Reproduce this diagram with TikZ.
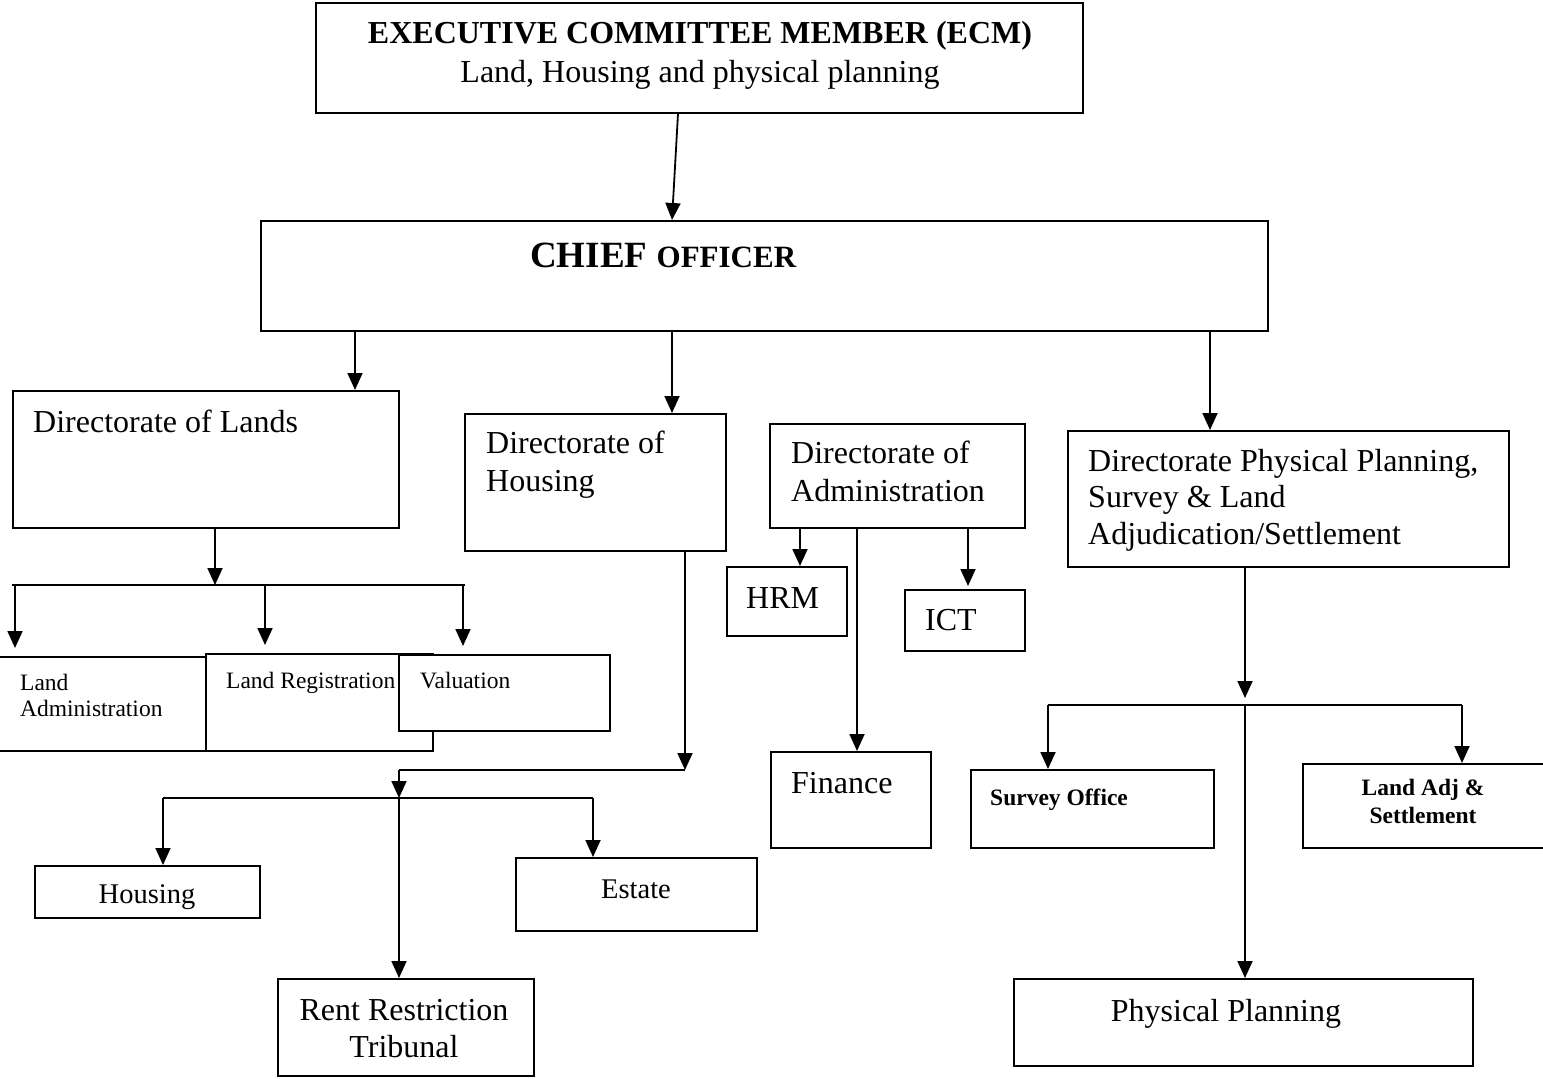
\documentclass[tikz,border=0pt]{standalone}
\usepackage{fontspec}
\setmainfont{Liberation Serif}
\usetikzlibrary{arrows.meta, positioning}
\tikzset{orgbox/.style={rectangle, draw=black, fill=white, line width=1.8pt, anchor=north west, inner sep=0pt},
bigtext/.style={font=\fontsize{32}{38}\selectfont, align=left, anchor=base west, inner sep=0pt},
smalltext/.style={font=\fontsize{23.5}{26}\selectfont, align=left, anchor=base west, inner sep=0pt},
smallboldtext/.style={font=\fontsize{23.5}{28}\selectfont\bfseries, align=center, anchor=base, inner sep=0pt}}
\tikzset{downarrow/.style={-{Triangle[length=17pt, width=15pt]}, line width=1.8pt},
joinline/.style={line width=1.8pt}}

\begin{document}
\begin{tikzpicture}[x=1pt, y=-1pt]
        \useasboundingbox[fill=white] (0,0) rectangle (1543,1079);
        % Top boxes (multi-line texts sit on their last baseline)
        \node[orgbox, minimum width=767pt, minimum height=110pt] (ecm) at (315,2) {};
        \node[anchor=base, align=center, inner sep=0pt, font=\fontsize{32}{39}\selectfont] (ecmtext) at (700,82) {\textbf{EXECUTIVE COMMITTEE MEMBER (ECM)}\\Land, Housing and physical planning};
        \node[orgbox, minimum width=1007pt, minimum height=110pt] (chief) at (260,220) {};
        \node[anchor=base west, inner sep=0pt] (chieftext) at (530,267) {\bfseries\fontsize{37}{40}\selectfont CHIEF \fontsize{31}{37}\selectfont OFFICER};
        % Directorates
        \node[orgbox, minimum width=386pt, minimum height=137pt] (lands) at (12,390) {};
        \node[bigtext] (landstext) at (33,432) {Directorate of Lands};
        \node[orgbox, minimum width=261pt, minimum height=137pt] (housingdir) at (464,413) {};
        \node[bigtext] (housingdirtext) at (486,491) {Directorate of\\Housing};
        \node[orgbox, minimum width=255pt, minimum height=104pt] (admindir) at (769,423) {};
        \node[bigtext] (admindirtext) at (791,501) {Directorate of\\Administration};
        \node[orgbox, minimum width=441pt, minimum height=136pt] (planningdir) at (1067,430) {};
        \node[bigtext, font=\fontsize{32}{36.5}\selectfont] (planningdirtext) at (1088,544) {Directorate Physical Planning,\\Survey \& Land\\Adjudication/Settlement};
        % Lands units
        \node[orgbox, minimum width=209pt, minimum height=94pt] (landadmin) at (-4,656) {};
        \node[smalltext] (landadmintext) at (20,716) {Land\\Administration};
        \node[orgbox, minimum width=227pt, minimum height=97pt] (landreg) at (205,653) {};
        \node[smalltext] (landregtext) at (226,688) {Land Registration};
        \node[orgbox, minimum width=211pt, minimum height=76pt] (valuation) at (398,654) {};
        \node[smalltext] (valuationtext) at (420,688) {Valuation};
        % Administration units
        \node[orgbox, minimum width=120pt, minimum height=69pt] (hrm) at (726,566) {};
        \node[bigtext] (hrmtext) at (746,608) {HRM};
        \node[orgbox, minimum width=120pt, minimum height=61pt] (ict) at (904,589) {};
        \node[bigtext] (icttext) at (925,630) {ICT};
        \node[orgbox, minimum width=160pt, minimum height=96pt] (finance) at (770,751) {};
        \node[bigtext] (financetext) at (791,793) {Finance};
        % Housing units
        \node[orgbox, minimum width=225pt, minimum height=52pt] (housing) at (34,865) {};
        \node[bigtext, font=\fontsize{28.5}{34}\selectfont, anchor=base] (housingtext) at (147,903) {Housing};
        \node[orgbox, minimum width=241pt, minimum height=73pt] (estate) at (515,857) {};
        \node[bigtext, font=\fontsize{28.5}{34}\selectfont, anchor=base] (estatetext) at (636,898) {Estate};
        \node[orgbox, minimum width=256pt, minimum height=97pt] (rent) at (277,978) {};
        \node[bigtext, align=center, anchor=base, font=\fontsize{32}{37}\selectfont] (renttext) at (404,1057) {Rent Restriction\\Tribunal};
        % Planning units
        \node[orgbox, minimum width=243pt, minimum height=78pt] (survey) at (970,769) {};
        \node[smallboldtext, anchor=base west] (surveytext) at (990,805) {Survey Office};
        \node[orgbox, minimum width=250pt, minimum height=84pt] (landadj) at (1302,763) {};
        \node[smallboldtext] (landadjtext) at (1423,823) {Land Adj \&\\Settlement};
        \node[orgbox, minimum width=459pt, minimum height=87pt] (physical) at (1013,978) {};
        \node[bigtext, anchor=base] (physicaltext) at (1226,1021) {Physical Planning};
        % Arrows from the top
        \draw[downarrow] ([xshift=363pt]ecm.south west) -- ([xshift=412pt]chief.north west);
        \draw[downarrow] ([xshift=95pt]chief.south west) -- ([xshift=343pt]lands.north west);
        \draw[downarrow] ([xshift=412pt]chief.south west) -- ([xshift=208pt]housingdir.north west);
        \draw[downarrow] ([xshift=950pt]chief.south west) -- ([xshift=143pt]planningdir.north west);
        % Lands tree
        \coordinate (landsjoin) at (215,585);
        \coordinate (landsleft) at (12,585);
        \coordinate (landsright) at (465,585);
        \draw[downarrow] ([xshift=203pt]lands.south west) -- (landsjoin);
        \draw[joinline] (landsleft) -- (landsright);
        \draw[downarrow, shorten >=8pt] ([xshift=3pt]landsleft) -- ([xshift=19pt]landadmin.north west);
        \draw[downarrow, shorten >=8pt] ([xshift=253pt]landsleft) -- ([xshift=60pt]landreg.north west);
        \draw[downarrow, shorten >=8pt] ([xshift=-2pt]landsright) -- ([xshift=65pt]valuation.north west);
        % Housing tree
        \coordinate (housingturn) at (685,770);
        \coordinate (housingleft) at (399,770);
        \coordinate (housingjoin) at (399,798);
        \coordinate (housingbarleft) at (163,798);
        \coordinate (housingbarright) at (593,798);
        \draw[downarrow] ([xshift=221pt]housingdir.south west) -- (housingturn);
        \draw[joinline] (housingturn) -- (housingleft);
        \draw[downarrow] (housingleft) -- (housingjoin);
        \draw[joinline] (housingbarleft) -- (housingbarright);
        \draw[downarrow] (housingbarleft) -- ([xshift=129pt]housing.north west);
        \draw[downarrow] (housingjoin) -- ([xshift=122pt]rent.north west);
        \draw[downarrow] (housingbarright) -- ([xshift=78pt]estate.north west);
        % Administration tree
        \draw[downarrow] ([xshift=31pt]admindir.south west) -- ([xshift=74pt]hrm.north west);
        \draw[downarrow, shorten >=3pt] ([xshift=199pt]admindir.south west) -- ([xshift=64pt]ict.north west);
        \draw[downarrow] ([xshift=88pt]admindir.south west) -- ([xshift=87pt]finance.north west);
        % Planning tree
        \coordinate (planningjoin) at (1245,705);
        \coordinate (planningbarleft) at (1048,705);
        \coordinate (planningbarright) at (1462,705);
        \draw[downarrow, shorten >=7pt] ([xshift=178pt]planningdir.south west) -- (planningjoin);
        \draw[joinline] (planningbarleft) -- (planningbarright);
        \draw[downarrow] (planningbarleft) -- ([xshift=78pt]survey.north west);
        \draw[downarrow] (planningbarright) -- ([xshift=160pt]landadj.north west);
        \draw[downarrow] (planningjoin) -- ([xshift=232pt]physical.north west);
    \end{tikzpicture}
\end{document}
